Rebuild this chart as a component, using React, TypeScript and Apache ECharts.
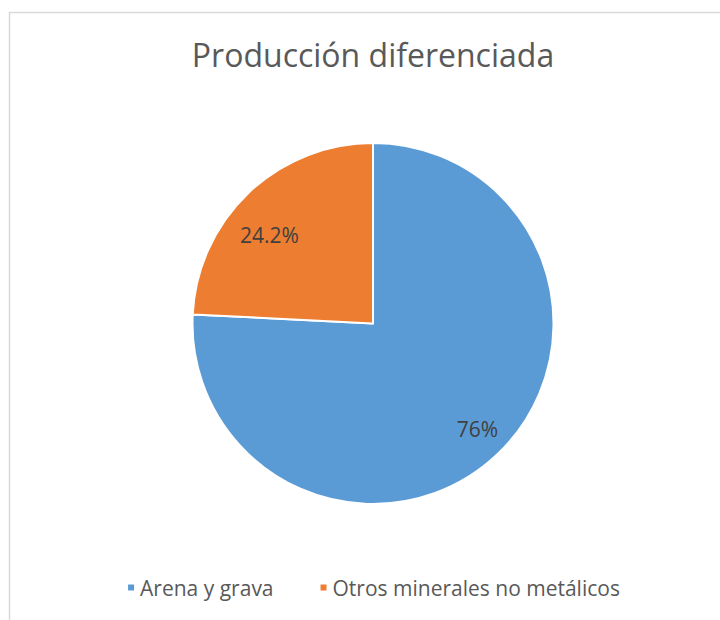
import React, { useEffect, useRef } from "react";
import * as echarts from "echarts";

const chartTitle = "Producción diferenciada";
const categories = ["Arena y grava", "Otros minerales no metálicos"];
const values = [75.8, 24.2];
const labelTexts = ["76%", "24.2%"];
const colors = ["#5B9BD5", "#ED7D31"];

const FONT = "Open Sans";

export default function App() {
  const ref = useRef<HTMLDivElement>(null);
  useEffect(() => {
    if (!ref.current) return;
    const chart = echarts.init(ref.current, null, { renderer: "svg" });
    const data = categories.map((name, i) => ({
      name,
      value: values[i],
      itemStyle: { color: colors[i] },
    }));
    const center = [373, 323.5];
    chart.setOption({
      animation: false,
      title: {
        text: chartTitle,
        left: "center",
        top: 33,
        textStyle: { fontFamily: FONT, fontSize: 32, fontWeight: "normal", color: "#595959" },
      },
      legend: {
        data: categories,
        left: "center",
        top: 572,
        icon: "rect",
        itemWidth: 8,
        itemHeight: 8,
        itemGap: 45,
        textStyle: { fontFamily: FONT, fontSize: 21, color: "#595959" },
      },
      graphic: [
        {
          type: "rect",
          silent: true,
          shape: { x: 9.5, y: 12.5, width: 800, height: 700 },
          style: { fill: "none", stroke: "#d9d9d9", lineWidth: 1.5 },
        },
      ],
      series: [
        {
          type: "pie",
          center,
          radius: 180.5,
          startAngle: 90,
          clockwise: true,
          data,
          label: { show: false },
          labelLine: { show: false },
          itemStyle: { borderColor: "#ffffff", borderWidth: 2 },
          emphasis: { disabled: true },
        },
        {
          type: "pie",
          center,
          radius: [108, 180.5],
          startAngle: 90,
          clockwise: true,
          silent: true,
          legendHoverLink: false,
          data: categories.map((name, i) => ({
            name,
            value: values[i],
            label: { offset: i === 0 ? [3, -1] : [-2, 18] },
          })),
          itemStyle: { color: "rgba(0,0,0,0)" },
          labelLine: { show: false },
          label: {
            show: true,
            position: "inside",
            formatter: (p: any) => labelTexts[p.dataIndex],
            fontFamily: FONT,
            fontSize: 21,
            color: "#404040",
          },
          emphasis: { disabled: true },
        },
      ],
    });
    return () => chart.dispose();
  }, []);
  return (
    <div style={{ position: "fixed", left: 0, top: 0, width: 720, height: 620, overflow: "hidden", background: "#fff" }}>
      <div ref={ref} style={{ width: 746, height: 620 }} />
    </div>
  );
}
